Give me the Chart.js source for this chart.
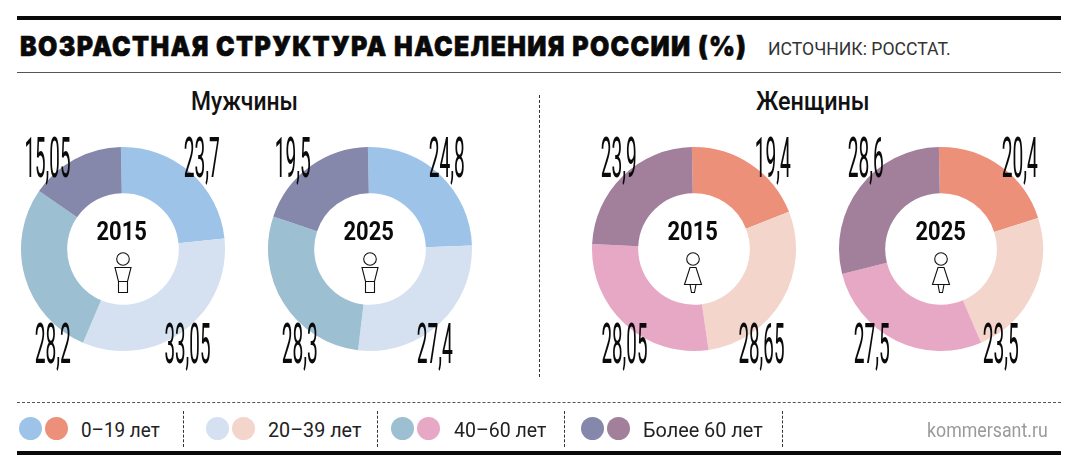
<!DOCTYPE html>
<html lang="ru">
<head>
<meta charset="utf-8">
<title>Возрастная структура населения России</title>
<script src="https://cdn.jsdelivr.net/npm/chart.js@4/dist/chart.umd.min.js"></script>
<style>
html, body { margin: 0; padding: 0; background: #fff; }
#page { position: relative; width: 1080px; height: 472px; overflow: hidden; font-family: Roboto, sans-serif; color: #111; }
#page canvas { position: absolute; }
.txt { position: absolute; white-space: nowrap; line-height: 1; }
.rule { position: absolute; }
.dot { position: absolute; width: 23px; height: 23px; border-radius: 50%; }
svg.icon { position: absolute; overflow: visible; }
</style>
</head>
<body>
<div id="page"></div>
<script>
// age groups, clockwise from 12 o'clock
var ageGroups = ['0–19 лет', '20–39 лет', '40–60 лет', 'Более 60 лет'];
var men2015 = [23.7, 33.05, 28.2, 15.05];
var men2025 = [24.8, 27.4, 28.3, 19.5];
var women2015 = [19.4, 28.65, 28.05, 23.9];
var women2025 = [20.4, 23.5, 27.5, 28.6];
var menColors = ['#9dc3e8', '#d5e1f0', '#9dbfd2', '#8587ab'];
var womenColors = ['#ed9079', '#f3d5cc', '#e7a8c6', '#a27f9b'];

var page = document.getElementById('page');

function addRule(x, y, w, h, css) {
    var d = document.createElement('div');
    d.className = 'rule';
    d.style.cssText = 'left:' + x + 'px;top:' + y + 'px;width:' + w + 'px;height:' + h + 'px;' + css;
    page.appendChild(d);
}

// places text with its centre at cy, then squeezes it to the wanted width
function addText(text, x, cy, width, align, css) {
    var d = document.createElement('div');
    d.className = 'txt';
    d.textContent = text;
    d.style.cssText = css;
    page.appendChild(d);
    var w = d.offsetWidth, h = d.offsetHeight;
    var sx = width / w;
    var left = align === 'center' ? x - w / 2 : x;
    d.style.left = left + 'px';
    d.style.top = (cy - h / 2) + 'px';
    d.style.transformOrigin = align === 'center' ? '50% 50%' : '0 50%';
    d.style.transform = 'scaleX(' + sx + ')';
}

function initChart(chartId, cx, values, colors) {
    var size = 212;
    var canvas = document.createElement('canvas');
    canvas.id = chartId;
    canvas.width = size;
    canvas.height = size;
    canvas.style.left = (cx - size / 2) + 'px';
    canvas.style.top = (249 - size / 2) + 'px';
    canvas.style.width = size + 'px';
    canvas.style.height = size + 'px';
    page.appendChild(canvas);
    new Chart(canvas.getContext('2d'), {
        type: 'doughnut',
        data: {
            labels: ageGroups,
            datasets: [{ data: values, backgroundColor: colors, borderWidth: 0 }]
        },
        options: {
            responsive: false,
            animation: false,
            radius: 102,
            cutout: 58,
            rotation: -1.2,
            plugins: { legend: { display: false }, tooltip: { enabled: false } }
        }
    });
}

function addIcon(cx, woman) {
    var svg = document.createElementNS('http://www.w3.org/2000/svg', 'svg');
    svg.setAttribute('class', 'icon');
    svg.setAttribute('width', 30);
    svg.setAttribute('height', 44);
    svg.style.left = (cx - 15) + 'px';
    svg.style.top = '251px';
    var shape = woman
        ? '<path d="M12 16.5h6l5.5 17h-17zM12 33.5l1.5 8h3l1.5-8"/>'
        : '<path d="M7 16.5h16l-3.5 14h-9zM10.500 30.500v11h9v-11"/>';
    svg.innerHTML = '<g fill="none" stroke="#111" stroke-width="1.1"><circle cx="15" cy="8" r="6.300"/>' + shape + '</g>';
    page.appendChild(svg);
}

function valueLabel(v) {
    return String(v).replace('.', ',');
}

// header
addRule(17, 16, 1044, 4, 'background:#0a0a0a');
addRule(17, 72, 1044, 1, 'background:#555');
addText('ВОЗРАСТНАЯ СТРУКТУРА НАСЕЛЕНИЯ РОССИИ (%)', 20, 46, 727, 'left', 'font:900 27px Inter,sans-serif;color:#0a0a0a;letter-spacing:1.5px;-webkit-text-stroke:0.6px #0a0a0a');
addText('ИСТОЧНИК: РОССТАТ.', 768, 48, 183, 'left', 'font:400 18px Roboto,sans-serif;color:#333');
addText('Мужчины', 244, 101, 107, 'center', 'font:500 25px Roboto,sans-serif');
addText('Женщины', 813, 101, 114, 'center', 'font:500 25px Roboto,sans-serif');
addRule(539, 95, 0, 282, 'border-left:1px dashed #333');

// doughnuts
initChart('men2015Chart', 123, men2015, menColors);
initChart('men2025Chart', 370, men2025, menColors);
initChart('women2015Chart', 694, women2015, womenColors);
initChart('women2025Chart', 941, women2025, womenColors);

// value labels: centres around each doughnut, in the same order as the slices
function addValues(values, xTopRight, xBottomRight, xBottomLeft, xTopLeft) {
    var css = 'font:400 56px Roboto,sans-serif;color:#0a0a0a';
    var xs = [xTopRight, xBottomRight, xBottomLeft, xTopLeft];
    var ys = [158, 344, 344, 158];
    values.forEach(function(v, i) {
        var s = valueLabel(v);
        addText(s, xs[i], ys[i], s.length === 5 ? 46 : 36, 'center', css);
    });
}
addValues(men2015, 201, 187, 52, 47);
addValues(men2025, 446, 434, 299, 292);
addValues(women2015, 772, 761, 624, 618);
addValues(women2025, 1019, 1000, 871, 865);

// centre years and figures
var yearCss = 'font:700 25px Roboto,sans-serif;color:#0a0a0a';
addText('2015', 121, 231, 50, 'center', yearCss);
addText('2025', 368, 231, 50, 'center', yearCss);
addText('2015', 692, 231, 50, 'center', yearCss);
addText('2025', 940, 231, 50, 'center', yearCss);
addIcon(123, false);
addIcon(370, false);
addIcon(693, true);
addIcon(941, true);

// legend
addRule(17, 402, 1044, 0, 'border-top:1px dashed #555');
addRule(17, 451, 1044, 4, 'background:#0a0a0a');
var legendDotX = [19, 206, 391, 581];
var legendTextX = [81, 268, 454, 643];
var legendTextW = [79, 93, 92, 120];
ageGroups.forEach(function(name, i) {
    [menColors[i], womenColors[i]].forEach(function(c, j) {
        var d = document.createElement('div');
        d.className = 'dot';
        d.style.left = (legendDotX[i] + j * 26) + 'px';
        d.style.top = '417px';
        d.style.background = c;
        page.appendChild(d);
    });
    addText(name, legendTextX[i], 430, legendTextW[i], 'left', 'font:400 21px Roboto,sans-serif;color:#222');
});
[183, 377, 564, 782].forEach(function(x) {
    addRule(x, 411, 0, 36, 'border-left:1px dashed #333');
});
addText('kommersant.ru', 927, 430, 121, 'left', 'font:400 21px Roboto,sans-serif;color:#9a9a9a');
</script>
</body>
</html>
